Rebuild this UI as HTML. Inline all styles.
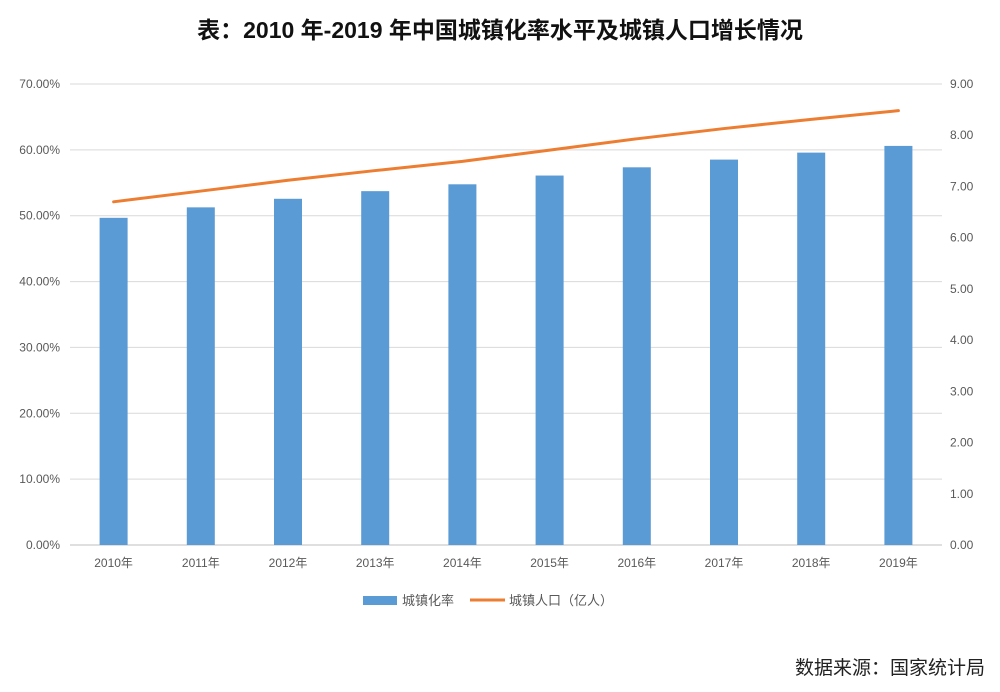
<!DOCTYPE html>
<html><head><meta charset="utf-8"><style>
body{margin:0;background:#fff;width:1000px;height:687px;overflow:hidden;font-family:"Liberation Sans","Noto Sans CJK SC",sans-serif}
</style></head><body>
<svg width="1000" height="687" font-family="Liberation Sans, Noto Sans CJK SC, sans-serif">
<text x="500" y="38" text-anchor="middle" font-size="23" font-weight="bold" fill="#111">表：2010 年-2019 年中国城镇化率水平及城镇人口增长情况</text>
<g id="grid"></g>
<g id="bars"></g>
<g id="line"></g>
<g id="axes"></g>
<g>
<rect x="363" y="596" width="34" height="9" fill="#5b9bd5"/>
<text x="402" y="605" font-size="13" fill="#595959">城镇化率</text>
<line x1="470" y1="600" x2="505" y2="600" stroke="#ed7d31" stroke-width="3"/>
<text x="509" y="605" font-size="13" fill="#595959">城镇人口（亿人）</text>
</g>
<text x="985" y="674" text-anchor="end" font-size="19" fill="#222">数据来源：国家统计局</text>
</svg>
<script>
const categories=["2010年","2011年","2012年","2013年","2014年","2015年","2016年","2017年","2018年","2019年"];
const rateValues=[49.68,51.27,52.57,53.73,54.77,56.10,57.35,58.52,59.58,60.60];
const popValues=[6.70,6.91,7.12,7.31,7.49,7.71,7.93,8.13,8.31,8.48];
const leftTicks=["0.00%","10.00%","20.00%","30.00%","40.00%","50.00%","60.00%","70.00%"];
const rightTicks=["0.00","1.00","2.00","3.00","4.00","5.00","6.00","7.00","8.00","9.00"];
const NS="http://www.w3.org/2000/svg";
const L=70,R=942,T=84,B=545;
const yL=v=>B-(v/70)*(B-T);
const yR=v=>B-(v/9)*(B-T);
const step=(R-L)/categories.length;
const xC=i=>L+step*(i+0.5);
function mk(p,tag,a){const e=document.createElementNS(NS,tag);for(const k in a)e.setAttribute(k,a[k]);p.appendChild(e);return e;}
const grid=document.getElementById('grid'),bars=document.getElementById('bars'),line=document.getElementById('line'),axes=document.getElementById('axes');
leftTicks.forEach((t,i)=>{const y=yL(i*10);
 const g=mk(grid,'line',{x1:L,x2:R,y1:y,y2:y,stroke:i==0?'#bfbfbf':'#d9d9d9','stroke-width':1});
 
 
 const tx=mk(axes,'text',{x:60,y:y+4,'text-anchor':'end','font-size':12,fill:'#595959'});tx.textContent=t;
 
 });
rightTicks.forEach((t,i)=>{const y=yR(i);
 const tx=mk(axes,'text',{x:950,y:y+4,'font-size':12,fill:'#595959'});tx.textContent=t;
 
 });
categories.forEach((c,i)=>{
 const r=mk(bars,'rect',{x:xC(i)-14,y:yL(rateValues[i]),width:28,height:B-yL(rateValues[i]),fill:'#5b9bd5'});
 
 
 const tx=mk(axes,'text',{x:xC(i),y:567,'text-anchor':'middle','font-size':12,fill:'#595959'});tx.textContent=c;
 
 });
const pl=mk(line,'polyline',{points:popValues.map((v,i)=>xC(i)+','+yR(v)).join(' '),fill:'none',stroke:'#ed7d31','stroke-width':3,'stroke-linejoin':'round','stroke-linecap':'round'});


</script>
</body></html>
